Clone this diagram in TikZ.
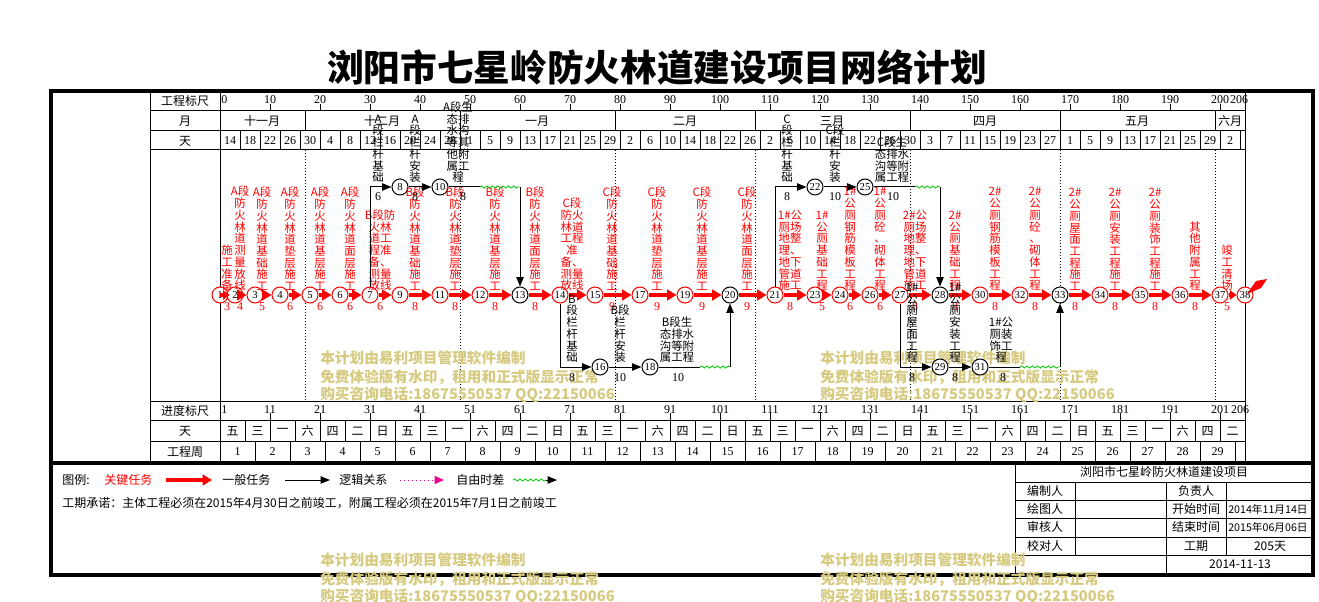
\documentclass[tikz,border=0pt]{standalone}
\usepackage{fontspec}
\setmainfont{Liberation Serif}
\newfontfamily\cjk{Noto Sans CJK SC}
\usetikzlibrary{arrows.meta,decorations.pathmorphing}
\definecolor{wm}{RGB}{214,202,128}
\definecolor{wgreen}{RGB}{0,200,0}
\newcommand\labf{\fontsize{8.6pt}{8.8pt}\selectfont\cjk}
\newcommand\hdf{\fontsize{9pt}{10pt}\selectfont\cjk}
\newcommand\numf{\fontsize{9pt}{10pt}\selectfont}
\tikzset{
  crit/.style={color=red, line width=3pt, -{Triangle[length=7pt,width=8pt]}},
  norm/.style={color=black, line width=0.75pt, -{Triangle[length=7pt,width=5.5pt]}},
  plain/.style={line width=0.75pt},
  wavy/.style={draw=wgreen, line width=0.6pt, decorate, decoration={snake,amplitude=0.8pt,segment length=4pt}},
  rlab/.style={anchor=south, align=center, inner sep=0pt, text=red, font=\labf},
  blab/.style={rlab, text=black},
  rdur/.style={inner sep=0pt, text=red, font=\numf},
  bdur/.style={rdur, text=black},
  nd/.style={circle, draw=black, fill=white, minimum size=12pt, inner sep=0pt, line width=0.75pt, font=\fontsize{8pt}{8pt}\selectfont},
  rn/.style={nd, draw=red},
  grid/.style={line width=0.75pt},
  hl/.style={font=\hdf, inner sep=0pt},
  nl/.style={font=\numf, inner sep=0pt},
  dotl/.style={line width=0.75pt, dash pattern=on 0.75pt off 1.5pt},
  wmk/.style={anchor=west, inner sep=0pt, text=wm, font=\fontsize{11pt}{12pt}\selectfont\cjk\bfseries},
}
\newcommand\ctask[6][]{%
  \draw[crit,#1] (#2) -- (#3);
  \node[rlab] (t#2#3) at (#6,291) {#4};
  \node[rdur] (d#2#3) at (#6,307) {#5};}
\begin{document}
\begin{tikzpicture}[x=0.75pt,y=-0.75pt]
\useasboundingbox (0,0) rectangle (1319,602);
% title
\node[inner sep=0pt] (title) at (657,68) {\cjk\bfseries\fontsize{27.5pt}{30pt}\selectfont 浏阳市七星岭防火林道建设项目网络计划};
% frame and grid
\draw[line width=3pt] (51,91) rectangle (1313,575);
\draw[line width=3pt] (51,463) -- (1313,463);
\draw[grid] (150,91) -- (150,463);
\draw[grid] (220,91) -- (220,463);
\draw[grid] (1245,91) -- (1245,463);
\foreach \y in {111,131,150,401,420,441} \draw[grid] (150,\y) -- (1245,\y);
\foreach \x in {305,460,615,755,910,1060,1215} {\draw[grid] (\x,111) -- (\x,131); \draw[dotl] (\x,150) -- (\x,401);}
% header labels
\node[hl] (h1) at (185,101) {工程标尺};
\node[hl] (h2) at (185,121) {月};
\node[hl] (h3) at (185,141) {天};
\node[hl] (h4) at (185,411) {进度标尺};
\node[hl] (h5) at (185,431) {天};
\node[hl] (h6) at (185,452) {工程周};
% top scale
\node[nl,anchor=west] (s0) at (221,100) {0};
\foreach \k in {1,...,20} {\pgfmathtruncatemacro\v{10*\k}
  \draw[grid] ({220+50*\k},104) -- ({220+50*\k},111);
  \node[nl] (s\k) at ({220+50*\k},100) {\v};}
\node[nl] (s21) at (1239,100) {206};
% months
\node[hl] (m1) at (262,121) {十一月};
\node[hl] (m2) at (382,121) {十二月};
\node[hl] (m3) at (537,121) {一月};
\node[hl] (m4) at (685,121) {二月};
\node[hl] (m5) at (832,121) {三月};
\node[hl] (m6) at (985,121) {四月};
\node[hl] (m7) at (1137,121) {五月};
\node[hl] (m8) at (1230,121) {六月};
% days
\foreach \d [count=\i from 0] in {14,18,22,26,30,4,8,12,16,20,24,28,1,5,9,13,17,21,25,29,2,6,10,14,18,22,26,2,6,10,14,18,22,26,30,3,7,11,15,19,23,27,1,5,9,13,17,21,25,29,2}
  \node[nl] (dd\i) at ({230+20*\i},140.5) {\d};
\foreach \i in {1,...,51} \draw[grid] ({220+20*\i},131) -- ({220+20*\i},150);
% bottom scale
\node[nl,anchor=west] (b0) at (221,410) {1};
\foreach \k in {1,...,20} {\pgfmathtruncatemacro\v{10*\k+1}
  \draw[grid] ({220+50*\k},413) -- ({220+50*\k},420);
  \node[nl] (b\k) at ({220+50*\k},410) {\v};}
\node[nl] (b21) at (1240,410) {206};
\foreach \w [count=\i from 0] in {五,三,一,六,四,二,日,五,三,一,六,四,二,日,五,三,一,六,四,二,日,五,三,一,六,四,二,日,五,三,一,六,四,二,日,五,三,一,六,四,二}
  \node[hl] (wd\i) at ({232.5+25*\i},431) {\w};
\foreach \i in {1,...,40} \draw[grid] ({220+25*\i},420) -- ({220+25*\i},441);
\foreach \i in {1,...,29} {\node[nl] (wk\i) at ({202.5+35*\i},452) {\i};
  \draw[grid] ({220+35*\i},441) -- ({220+35*\i},463);}
% watermark in chart
\foreach \x/\y [count=\i] in {320/358, 820/358} {
  \node[wmk] (wa\i) at (\x,\y) {本计划由易利项目管理软件编制};
  \node[wmk] (wb\i) at (\x,\y+19) {免费体验版有水印，租用和正式版显示正常};
  \node[wmk] (wc\i) at (\x,\y+37) {购买咨询电话:18675550537 QQ:22150066};}
% network nodes
\node[rn] (n1) at (220,295) {1};
\node[rn] (n2) at (235,295) {2};
\node[rn] (n3) at (255,295) {3};
\node[rn] (n4) at (280,295) {4};
\node[rn] (n5) at (310,295) {5};
\node[rn] (n6) at (340,295) {6};
\node[rn] (n7) at (370,295) {7};
\node[nd] (n8) at (400,187) {8};
\node[rn] (n9) at (400,295) {9};
\node[nd] (n10) at (440,187) {10};
\node[rn] (n11) at (440,295) {11};
\node[rn] (n12) at (480,295) {12};
\node[nd] (n13) at (520,295) {13};
\node[rn] (n14) at (560,295) {14};
\node[rn] (n15) at (595,295) {15};
\node[nd] (n16) at (600,367) {16};
\node[rn] (n17) at (640,295) {17};
\node[nd] (n18) at (650,367) {18};
\node[rn] (n19) at (685,295) {19};
\node[nd] (n20) at (730,295) {20};
\node[rn] (n21) at (775,295) {21};
\node[nd] (n22) at (815,187) {22};
\node[rn] (n23) at (815,295) {23};
\node[rn] (n24) at (840,295) {24};
\node[nd] (n25) at (865,187) {25};
\node[rn] (n26) at (870,295) {26};
\node[rn] (n27) at (900,295) {27};
\node[nd] (n28) at (940,295) {28};
\node[nd] (n29) at (940,367) {29};
\node[rn] (n30) at (980,295) {30};
\node[nd] (n31) at (980,367) {31};
\node[rn] (n32) at (1020,295) {32};
\node[nd] (n33) at (1060,295) {33};
\node[rn] (n34) at (1100,295) {34};
\node[rn] (n35) at (1140,295) {35};
\node[rn] (n36) at (1180,295) {36};
\node[rn] (n37) at (1220,295) {37};
\node[rn] (n38) at (1245,295) {38};
% critical chain
\draw[crit, shorten >=4pt, -{Triangle[length=5pt,width=7pt]}] (n1.center) -- (n2.center);
\node[rlab] (tn1n2) at (227,291) {施\\工\\准\\备};
\node[rdur] (dn1n2) at (227,307) {3};
\ctask{n2}{n3}{A段\\防\\火\\林\\道\\测\\量\\放\\线}{4}{240}
\ctask{n3}{n4}{A段\\防\\火\\林\\道\\基\\础\\施\\工}{5}{262}
\ctask{n4}{n5}{A段\\防\\火\\林\\道\\垫\\层\\施\\工}{6}{290}
\ctask{n5}{n6}{A段\\防\\火\\林\\道\\基\\层\\施\\工}{6}{320}
\ctask{n6}{n7}{A段\\防\\火\\林\\道\\面\\层\\施\\工}{6}{350}
\ctask{n7}{n9}{B段防\\火林\\道工\\程准\\备、\\测量\\放线}{6}{380}
\ctask{n9}{n11}{B段\\防\\火\\林\\道\\基\\础\\施\\工}{8}{415}
\ctask{n11}{n12}{B段\\防\\火\\林\\道\\垫\\层\\施\\工}{8}{455}
\ctask{n12}{n13}{B段\\防\\火\\林\\道\\基\\层\\施\\工}{8}{495}
\ctask{n13}{n14}{B段\\防\\火\\林\\道\\面\\层\\施\\工}{8}{535}
\draw[crit] (n14) -- (n15);
\node[rlab] (tn14n15) at (572,291) {C段\\防火\\林道\\工程\\准\\备、\\测量\\放线};
\ctask{n15}{n17}{C段\\防\\火\\林\\道\\基\\础\\施\\工}{9}{612}
\ctask{n17}{n19}{C段\\防\\火\\林\\道\\垫\\层\\施\\工}{9}{657}
\ctask{n19}{n20}{C段\\防\\火\\林\\道\\基\\层\\施\\工}{9}{702}
\ctask{n20}{n21}{C段\\防\\火\\林\\道\\面\\层\\施\\工}{9}{747}
\ctask{n21}{n23}{1\#公\\厕场\\地整\\理、\\地下\\管道\\施工}{8}{790}
\ctask{n23}{n24}{1\#\\公\\厕\\基\\础\\工\\程}{5}{822}
\ctask{n24}{n26}{1\#\\公\\厕\\钢\\筋\\模\\板\\工\\程}{6}{850}
\ctask{n26}{n27}{1\#\\公\\厕\\砼\\、\\砌\\体\\工\\程}{6}{880}
\ctask{n27}{n28}{2\#公\\厕场\\地整\\理、\\地下\\管道\\施工}{8}{915}
\ctask{n28}{n30}{2\#\\公\\厕\\基\\础\\工\\程}{8}{955}
\ctask{n30}{n32}{2\#\\公\\厕\\钢\\筋\\模\\板\\工\\程}{8}{995}
\ctask{n32}{n33}{2\#\\公\\厕\\砼\\、\\砌\\体\\工\\程}{8}{1035}
\ctask{n33}{n34}{2\#\\公\\厕\\屋\\面\\工\\程\\施\\工}{8}{1075}
\ctask{n34}{n35}{2\#\\公\\厕\\安\\装\\工\\程\\施\\工}{8}{1115}
\ctask{n35}{n36}{2\#\\公\\厕\\装\\饰\\工\\程\\施\\工}{8}{1155}
\ctask{n36}{n37}{其\\他\\附\\属\\工\\程}{8}{1195}
\ctask[-{Triangle[length=5pt,width=7pt]}]{n37}{n38}{竣\\工\\清\\场}{5}{1227}
\fill[red] (1247,294) -- (1256,281) -- (1267,279) -- (1261,288) -- cycle;
% A branch
\draw[norm] (n7) |- (n8);
\node[blab] (t78) at (378,183) {A\\段\\栏\\杆\\基\\础};
\node[bdur] (d78) at (378,197) {6};
\draw[norm] (n8) -- (n10);
\node[blab] (t810) at (415,183) {A\\段\\栏\\杆\\安\\装};
\node[bdur] (d810) at (415,197) {8};
\coordinate (c1) at (480,187);
\coordinate (c2) at (520,187);
\draw[plain] (n10) -- (c1);
\draw[wavy] (c1) -- (c2);
\draw[norm] (c2) -- (n13);
\node[blab] (t1013) at (458,183) {A段生\\态排\\水沟\\等其\\他附\\属工\\程};
\node[bdur] (d1013) at (463,197) {8};
% B branch
\draw[norm] (n14) |- (n16);
\node[blab] (t1416) at (572,363) {B\\段\\栏\\杆\\基\\础};
\node[bdur] (d1416) at (572,378) {8};
\draw[norm] (n16) -- (n18);
\node[blab] (t1618) at (620,363) {B段\\栏\\杆\\安\\装};
\node[bdur] (d1618) at (620,378) {10};
\coordinate (c3) at (700,367);
\coordinate (c4) at (730,367);
\draw[plain] (n18) -- (c3);
\draw[wavy] (c3) -- (c4);
\draw[norm] (c4) -- (n20);
\node[blab] (t1820) at (677,363) {B段生\\态排水\\沟等附\\属工程};
\node[bdur] (d1820) at (678,378) {10};
% C branch
\draw[norm] (n21) |- (n22);
\node[blab] (t2122) at (787,183) {C\\段\\栏\\杆\\基\\础};
\node[bdur] (d2122) at (787,197) {8};
\draw[norm] (n22) -- (n25);
\node[blab] (t2225) at (835,183) {C段\\栏\\杆\\安\\装};
\node[bdur] (d2225) at (835,197) {10};
\coordinate (c5) at (915,187);
\coordinate (c6) at (940,187);
\draw[plain] (n25) -- (c5);
\draw[wavy] (c5) -- (c6);
\draw[norm] (c6) -- (n28);
\node[blab] (t2528) at (892,183) {C段生\\态排水\\沟等附\\属工程};
\node[bdur] (d2528) at (893,197) {10};
% 1# branch
\draw[norm] (n27) |- (n29);
\node[blab] (t2729) at (912,363) {1\#\\公\\厕\\屋\\面\\工\\程};
\node[bdur] (d2729) at (912,378) {8};
\draw[norm] (n29) -- (n31);
\node[blab] (t2931) at (955,363) {1\#\\公\\厕\\安\\装\\工\\程};
\node[bdur] (d2931) at (955,378) {8};
\coordinate (c7) at (1020,367);
\coordinate (c8) at (1060,367);
\draw[plain] (n31) -- (c7);
\draw[wavy] (c7) -- (c8);
\draw[norm] (c8) -- (n33);
\node[blab] (t3133) at (1001,363) {1\#公\\厕装\\饰工\\程};
\node[bdur] (d3133) at (1003,378) {8};
% legend
\node[hl,anchor=west] (lg0) at (62,480) {图例:};
\node[hl,anchor=west,text=red] (lg1) at (104,480) {关键任务};
\coordinate (la) at (166,480); \coordinate (lb) at (212,480);
\draw[crit] (la) -- (lb);
\node[hl,anchor=west] (lg2) at (222,480) {一般任务};
\coordinate (lc) at (285,480); \coordinate (ld) at (330,480);
\draw[norm] (lc) -- (ld);
\node[hl,anchor=west] (lg3) at (339,480) {逻辑关系};
\coordinate (le) at (400,480); \coordinate (lf) at (444,480);
\draw[magenta, line width=0.75pt, dash pattern=on 1pt off 2pt, -{Triangle[length=7pt,width=6pt]}] (le) -- (lf);
\node[hl,anchor=west] (lg4) at (456,480) {自由时差};
\coordinate (lg) at (513,480); \coordinate (lh) at (546,480); \coordinate (li) at (557,480);
\draw[wavy] (lg) -- (lh);
\draw[norm] (lh) -- (li);
\node[hl,anchor=west] (lg5) at (62,503) {工期承诺：主体工程必须在2015年4月30日之前竣工，附属工程必须在2015年7月1日之前竣工};
% info table
\draw[grid] (1015,463) -- (1015,575);
\foreach \y in {482,500,518,537,555} \draw[grid] (1015,\y) -- (1313,\y);
\draw[grid] (1075,482) -- (1075,555);
\draw[grid] (1166,482) -- (1166,575);
\draw[grid] (1226,482) -- (1226,555);
\node[hl] (it0) at (1164,472) {浏阳市七星岭防火林道建设项目};
\node[hl] (it1) at (1045,491) {编制人};
\node[hl] (it2) at (1196,491) {负责人};
\node[hl] (it3) at (1045,509) {绘图人};
\node[hl] (it4) at (1196,509) {开始时间};
\node[inner sep=0pt,anchor=west,font=\fontsize{8pt}{9pt}\selectfont\cjk] (it5) at (1228,509) {2014年11月14日};
\node[hl] (it6) at (1045,527) {审核人};
\node[hl] (it7) at (1196,527) {结束时间};
\node[inner sep=0pt,anchor=west,font=\fontsize{8pt}{9pt}\selectfont\cjk] (it8) at (1228,527) {2015年06月06日};
\node[hl] (it9) at (1045,546) {校对人};
\node[hl] (it10) at (1196,546) {工期};
\node[hl] (it11) at (1270,546) {205天};
\node[hl] (it12) at (1240,564) {2014-11-13};
% bottom watermark
\foreach \x/\y [count=\i from 3] in {320/560, 820/560} {
  \node[wmk] (wa\i) at (\x,\y) {本计划由易利项目管理软件编制};
  \node[wmk] (wb\i) at (\x,\y+19) {免费体验版有水印，租用和正式版显示正常};
  \node[wmk] (wc\i) at (\x,\y+37) {购买咨询电话:18675550537 QQ:22150066};}
\end{tikzpicture}
\end{document}
